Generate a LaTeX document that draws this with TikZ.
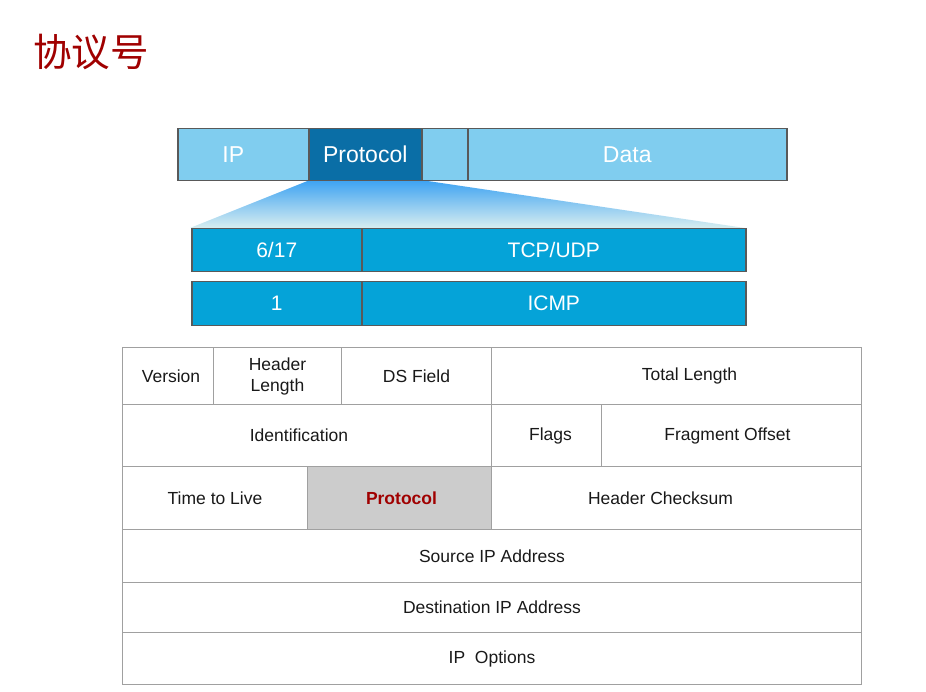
\documentclass[tikz,border=0pt]{standalone}
\usepackage{fontspec}
\setmainfont{Liberation Sans}
\newfontfamily\cjk{Noto Sans CJK SC}
\begin{document}
\begin{tikzpicture}[x=1pt,y=-1pt,
  barcell/.style={draw=black!65, line width=1.5pt, inner sep=0pt, anchor=north west,
    text=white, font=\fontsize{23}{26}\selectfont},
  lightcell/.style={barcell, fill=barlight},
  darkcell/.style={barcell, fill=bardark},
  protocell/.style={barcell, fill=protoblue, font=\fontsize{21}{24}\selectfont},
  hdr/.style={draw=gridgray, line width=1pt, inner sep=0pt, anchor=north west,
    text=black!90, font=\fontsize{17.5}{21}\selectfont, align=center},
]
\definecolor{barlight}{HTML}{80CDEF}
\definecolor{bardark}{HTML}{0A6EA6}
\definecolor{protoblue}{HTML}{05A3D8}
\definecolor{gridgray}{HTML}{A0A0A0}
\definecolor{titlered}{HTML}{A00000}
\definecolor{fanTop}{HTML}{3CA2F2}
\definecolor{fanBottom}{HTML}{D8EEF0}

\useasboundingbox (0,0) rectangle (926,692);

% heading
\node[anchor=west, inner sep=0pt, text=titlered, font=\cjk\fontsize{38.5}{42}\selectfont] (title) at (33,52) {协议号};

% expansion fan under the Protocol field
\shade[top color=fanTop, bottom color=fanBottom] (310,180) -- (421,180) -- (745,228) -- (190,228) -- cycle;

% packet bar
\node[lightcell, minimum width=131, minimum height=52] (ip) at (177,128) {IP\hspace*{20pt}};
\node[darkcell, minimum width=113, minimum height=52] (proto) at (308,128) {Protocol};
\node[lightcell, minimum width=46, minimum height=52] (gap) at (421,128) {};
\node[lightcell, minimum width=319, minimum height=52] (data) at (467,128) {Data};

% protocol numbers
\node[protocell, minimum width=170, minimum height=43] (n617) at (191,228) {6/17};
\node[protocell, minimum width=384, minimum height=43] (tcpudp) at (361,228) {TCP/UDP};
\node[protocell, minimum width=170, minimum height=44] (n1) at (191,281) {1};
\node[protocell, minimum width=384, minimum height=44] (icmp) at (361,281) {ICMP};

% IPv4 header
\node[hdr, minimum width=91, minimum height=57] (version) at (122,347) {\hspace*{6pt}Version};
\node[hdr, minimum width=128, minimum height=57] (hlen) at (213,347) {Header\\Length};
\node[hdr, minimum width=150, minimum height=57] (ds) at (341,347) {DS Field};
\node[hdr, minimum width=370, minimum height=57] (tlen) at (491,347) {\hspace*{26pt}Total Length};

\node[hdr, minimum width=369, minimum height=62] (ident) at (122,404) {Identification\hspace*{16pt}};
\node[hdr, minimum width=110, minimum height=62] (flags) at (491,404) {\hspace*{8pt}Flags};
\node[hdr, minimum width=260, minimum height=62] (frag) at (601,404) {Fragment Offset\hspace*{8pt}};

\node[hdr, minimum width=185, minimum height=63] (ttl) at (122,466) {Time to Live};
\node[hdr, minimum width=184, minimum height=63, fill=black!20, text=titlered, font=\fontsize{17.5}{21}\selectfont\bfseries] (hproto) at (307,466) {\hspace*{4pt}Protocol};
\node[hdr, minimum width=370, minimum height=63] (csum) at (491,466) {Header Checksum\hspace*{32pt}};

\node[hdr, minimum width=739, minimum height=53] (src) at (122,529) {Source IP Address};
\node[hdr, minimum width=739, minimum height=50] (dst) at (122,582) {Destination IP Address};
\node[hdr, minimum width=739, minimum height=52] (opts) at (122,632) {IP\ \ Options};
\end{tikzpicture}
\end{document}
